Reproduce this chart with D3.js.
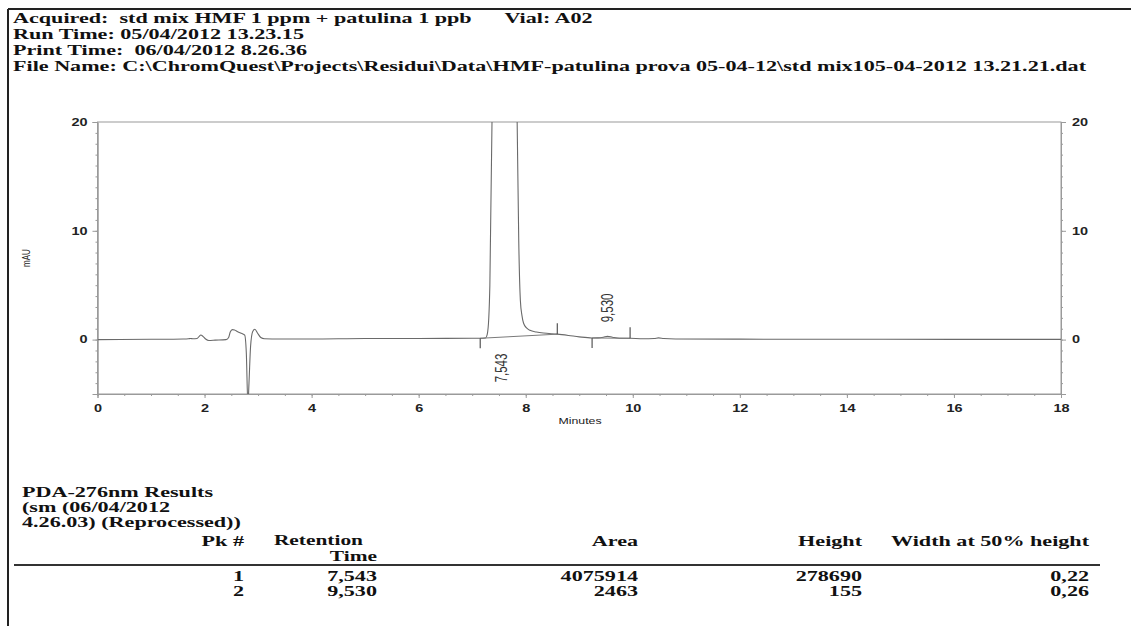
<!DOCTYPE html>
<html>
<head>
<meta charset="utf-8">
<script src="https://cdn.jsdelivr.net/npm/d3@7"></script>
<style>
  body { margin: 0; background: #fff; }
  svg { display: block; }
  text { white-space: pre; }
</style>
</head>
<body>
<svg id="chart" width="1131" height="626"></svg>
<script>
// ---- report header ----
const headerLines = [
  "Acquired:  std mix HMF 1 ppm + patulina 1 ppb      Vial: A02",
  "Run Time: 05/04/2012 13.23.15",
  "Print Time:  06/04/2012 8.26.36",
  "File Name: C:\\ChromQuest\\Projects\\Residui\\Data\\HMF-patulina prova 05-04-12\\std mix105-04-2012 13.21.21.dat"
];

// ---- axes ----
const xTicks = [0, 2, 4, 6, 8, 10, 12, 14, 16, 18];
const yTicks = [0, 10, 20];
const xDomain = [0, 18];
const yDomain = [-5, 20];
const xTitle = "Minutes";
const yTitle = "mAU";

// ---- detector trace (PDA 276 nm), time in minutes, signal in mAU ----
const timeMin = [
  0.00, 1.00, 1.60, 1.70, 1.74, 1.78, 1.86, 1.90, 1.93, 1.97, 2.02, 2.08, 2.20, 2.40,
  2.45, 2.48, 2.52, 2.56, 2.62, 2.70, 2.75, 2.78, 2.81, 2.83, 2.86, 2.90, 2.94, 2.99,
  3.05, 3.12, 3.40, 4.00, 5.00, 6.00, 7.00, 7.15, 7.25, 7.28, 7.31, 7.33, 7.37, 7.40,
  7.45, 7.50, 7.543, 7.59, 7.65, 7.72, 7.78, 7.84, 7.87, 7.90, 7.93, 7.96, 8.02, 8.08,
  8.20, 8.33, 8.59, 8.80, 9.00, 9.24, 9.35, 9.45, 9.53, 9.62, 9.75, 9.95, 10.20, 10.40,
  10.48, 10.58, 10.80, 12.00, 14.00, 16.00, 18.00
];
const signalMAU = [
  0.00, 0.03, 0.06, 0.08, 0.10, 0.08, 0.10, 0.30, 0.42, 0.30, 0.05, -0.08, -0.05, 0.00,
  0.20, 0.70, 0.92, 0.88, 0.72, 0.55, 0.42, -1.20, -6.00, -4.00, -0.60, 0.75, 0.95, 0.60,
  0.20, 0.08, 0.05, 0.05, 0.10, 0.10, 0.12, 0.12, 0.15, 0.45, 2.00, 5.00, 20.0, 45.0,
  120.0, 230.0, 278.69, 240.0, 150.0, 70.0, 35.0, 20.0, 9.0, 3.6, 2.2, 1.5, 1.05, 0.85,
  0.70, 0.60, 0.50, 0.38, 0.25, 0.15, 0.16, 0.22, 0.30, 0.22, 0.13, 0.12, 0.08, 0.10,
  0.16, 0.10, 0.06, 0.04, 0.03, 0.02, 0.02
];

// ---- integrated peaks ----
const peakRT = [7.543, 9.530];
const peakApexMAU = [278.69, 0.30];
const peakStartMin = [7.15, 9.24];
const peakEndMin = [8.59, 9.95];
const peakStartMAU = [0.12, 0.15];
const peakEndMAU = [0.50, 0.12];

// ---- results table ----
const resultsTitle = ["PDA-276nm Results", "(sm (06/04/2012", "4.26.03) (Reprocessed))"];
const pkNumbers = [1, 2];
const areas = [4075914, 2463];
const heights = [278690, 155];
const widthsHalf = ["0,22", "0,26"];

// ---- page layout ----
const W = 1131, H = 626;
const STRETCH = 1.45;               // glyph widening of the printed report (axis labels)
const STRETCH_SERIF = 1.475;        // glyph widening of the report text
const TXT = 15;                     // report text size
const plot = { left: 97.5, right: 1061, top: 122, bottom: 394 };
const ink = "#111";
const serif = "'Liberation Serif', 'Times New Roman', serif";
const sans = "'Liberation Sans', Arial, Helvetica, sans-serif";

const svg = d3.select("#chart");
svg.append("rect").attr("width", W).attr("height", H).attr("fill", "#fff");

// writes a horizontally widened text item
function wideText(parent, x, y, str, o = {}) {
  return parent.append("text")
    .attr("transform", `translate(${x},${y}) scale(${o.stretch || STRETCH_SERIF},1)` + (o.rotate ? ` rotate(${o.rotate})` : ""))
    .attr("text-anchor", o.anchor || "start")
    .attr("dominant-baseline", o.baseline || "auto")
    .attr("font-family", o.family || serif)
    .attr("font-weight", o.weight || "bold")
    .attr("font-size", o.size || TXT)
    .attr("fill", o.fill || ink)
    .text(str);
}

// page border
svg.append("line").attr("x1", 8).attr("x2", W).attr("y1", 9).attr("y2", 9)
  .attr("stroke", "#222").attr("stroke-width", 2);
svg.append("line").attr("x1", 8).attr("x2", 8).attr("y1", 9).attr("y2", H)
  .attr("stroke", "#222").attr("stroke-width", 2);

// header
const hdr = svg.append("g");
headerLines.forEach((s, i) => wideText(hdr, 13, 23 + i * 16, s));

// ---- chromatogram ----
const x = d3.scaleLinear().domain(xDomain).range([plot.left, plot.right]);
const y = d3.scaleLinear().domain(yDomain).range([plot.bottom, plot.top]);
const axisColor = "#9a9a9a";

const chart = svg.append("g");

// frame
chart.append("rect")
  .attr("x", plot.left).attr("y", plot.top)
  .attr("width", plot.right - plot.left).attr("height", plot.bottom - plot.top)
  .attr("fill", "none").attr("stroke", axisColor).attr("stroke-width", 1);

// minor ticks
const xMinor = d3.range(xDomain[0], xDomain[1] + 0.001, 0.5);
const yMinor = d3.range(yDomain[0], yDomain[1] + 0.001, 1);
const styleAxis = g => {
  g.select(".domain").attr("stroke", axisColor);
  g.selectAll(".tick line").attr("stroke", axisColor);
};
chart.append("g").attr("transform", `translate(0,${plot.bottom})`)
  .call(d3.axisBottom(x).tickValues(xMinor).tickSize(2).tickFormat(""))
  .call(styleAxis);
chart.append("g").attr("transform", `translate(${plot.left},0)`)
  .call(d3.axisLeft(y).tickValues(yMinor).tickSize(2).tickFormat(""))
  .call(styleAxis);
chart.append("g").attr("transform", `translate(${plot.right},0)`)
  .call(d3.axisRight(y).tickValues(yMinor).tickSize(2).tickFormat(""))
  .call(styleAxis);

// major ticks and labels
const labelStyle = sel => sel
  .attr("font-family", sans).attr("font-weight", "bold")
  .attr("font-size", 10).attr("fill", "#222");

const xAxisG = chart.append("g").attr("transform", `translate(0,${plot.bottom})`)
  .call(d3.axisBottom(x).tickValues(xTicks).tickSize(4).tickPadding(7).tickFormat(d3.format("d")))
  .call(styleAxis);
xAxisG.selectAll(".tick text").call(labelStyle).attr("transform", `scale(${STRETCH},1)`);

const yLeftG = chart.append("g").attr("transform", `translate(${plot.left},0)`)
  .call(d3.axisLeft(y).tickValues(yTicks).tickSize(5).tickFormat(d3.format("d")))
  .call(styleAxis);
yLeftG.selectAll(".tick text").call(labelStyle)
  .attr("x", -10 / STRETCH).attr("transform", `scale(${STRETCH},1)`);

const yRightG = chart.append("g").attr("transform", `translate(${plot.right},0)`)
  .call(d3.axisRight(y).tickValues(yTicks).tickSize(5).tickFormat(d3.format("d")))
  .call(styleAxis);
yRightG.selectAll(".tick text").call(labelStyle)
  .attr("x", 11 / STRETCH).attr("transform", `scale(${STRETCH},1)`);

// axis titles
wideText(chart, 580, 424, xTitle, { family: sans, weight: "normal", size: 8.5, anchor: "middle",
  fill: "#222", stretch: STRETCH });
wideText(chart, 26, y(7.5), yTitle, { family: sans, weight: "normal", size: 8, anchor: "middle",
  baseline: "central", rotate: -90, fill: "#222", stretch: STRETCH });

// trace, clipped to the plot window
svg.append("clipPath").attr("id", "plotClip")
  .append("rect").attr("x", plot.left).attr("y", plot.top)
  .attr("width", plot.right - plot.left).attr("height", plot.bottom - plot.top);

const points = timeMin.map((t, i) => [t, signalMAU[i]]);
const line = d3.line().x(d => x(d[0])).y(d => y(d[1])).curve(d3.curveMonotoneX);

const traceG = chart.append("g").attr("clip-path", "url(#plotClip)");
traceG.append("path").datum(points)
  .attr("d", line).attr("fill", "none")
  .attr("stroke", "#6a6a6a").attr("stroke-width", 1.1);

// integration baselines and start/end markers
peakRT.forEach((rt, i) => {
  traceG.append("line")
    .attr("x1", x(peakStartMin[i])).attr("y1", y(peakStartMAU[i]))
    .attr("x2", x(peakEndMin[i])).attr("y2", y(peakEndMAU[i]))
    .attr("stroke", "#7a7a7a").attr("stroke-width", 1);
  traceG.append("line")
    .attr("x1", x(peakStartMin[i])).attr("x2", x(peakStartMin[i]))
    .attr("y1", y(peakStartMAU[i])).attr("y2", y(peakStartMAU[i]) + 10)
    .attr("stroke", "#555").attr("stroke-width", 1.2);
  traceG.append("line")
    .attr("x1", x(peakEndMin[i])).attr("x2", x(peakEndMin[i]))
    .attr("y1", y(peakEndMAU[i])).attr("y2", y(peakEndMAU[i]) - 11)
    .attr("stroke", "#555").attr("stroke-width", 1.2);
});

// retention time labels
const fmtRT = d3.formatLocale({ decimal: ",", thousands: ".", grouping: [3], currency: ["", ""] }).format(".3f");
// tall peak: label hangs under the baseline; small peak: label stands above it
wideText(chart, x(peakRT[0]), y(0) + 14, fmtRT(peakRT[0]), { family: sans, weight: "normal", size: 11.5,
  anchor: "end", baseline: "central", rotate: -90, fill: "#333", stretch: STRETCH });
wideText(chart, x(peakRT[1]), y(peakApexMAU[1]) - 14, fmtRT(peakRT[1]), { family: sans, weight: "normal", size: 11.5,
  anchor: "start", baseline: "central", rotate: -90, fill: "#333", stretch: STRETCH });

// ---- results table ----
const tbl = svg.append("g");
resultsTitle.forEach((s, i) => wideText(tbl, 22, 497 + i * 15, s));

const col = { pk: 244, rt: 377, area: 638, height: 862, width: 1089 };
const headY = 546, rowY0 = 581, rowStep = 15;
wideText(tbl, col.pk, headY, "Pk #", { anchor: "end" });

// two-line column heading
wideText(tbl, col.rt - 14, headY - 1, "Retention", { anchor: "end", size: 14.5 });
wideText(tbl, col.rt, headY + 15, "Time", { anchor: "end", size: 14.5 });

wideText(tbl, col.area, headY, "Area", { anchor: "end" });
wideText(tbl, col.height, headY, "Height", { anchor: "end" });
wideText(tbl, col.width, headY, "Width at 50% height", { anchor: "end" });

tbl.append("line").attr("x1", 14).attr("x2", 1100).attr("y1", 565).attr("y2", 565)
  .attr("stroke", "#333").attr("stroke-width", 2);

pkNumbers.forEach((pk, i) => {
  const yy = rowY0 + i * rowStep;
  wideText(tbl, col.pk, yy, String(pk), { anchor: "end" });
  wideText(tbl, col.rt, yy, fmtRT(peakRT[i]), { anchor: "end" });
  wideText(tbl, col.area, yy, String(areas[i]), { anchor: "end" });
  wideText(tbl, col.height, yy, String(heights[i]), { anchor: "end" });
  wideText(tbl, col.width, yy, widthsHalf[i], { anchor: "end" });
});
</script>
</body>
</html>
